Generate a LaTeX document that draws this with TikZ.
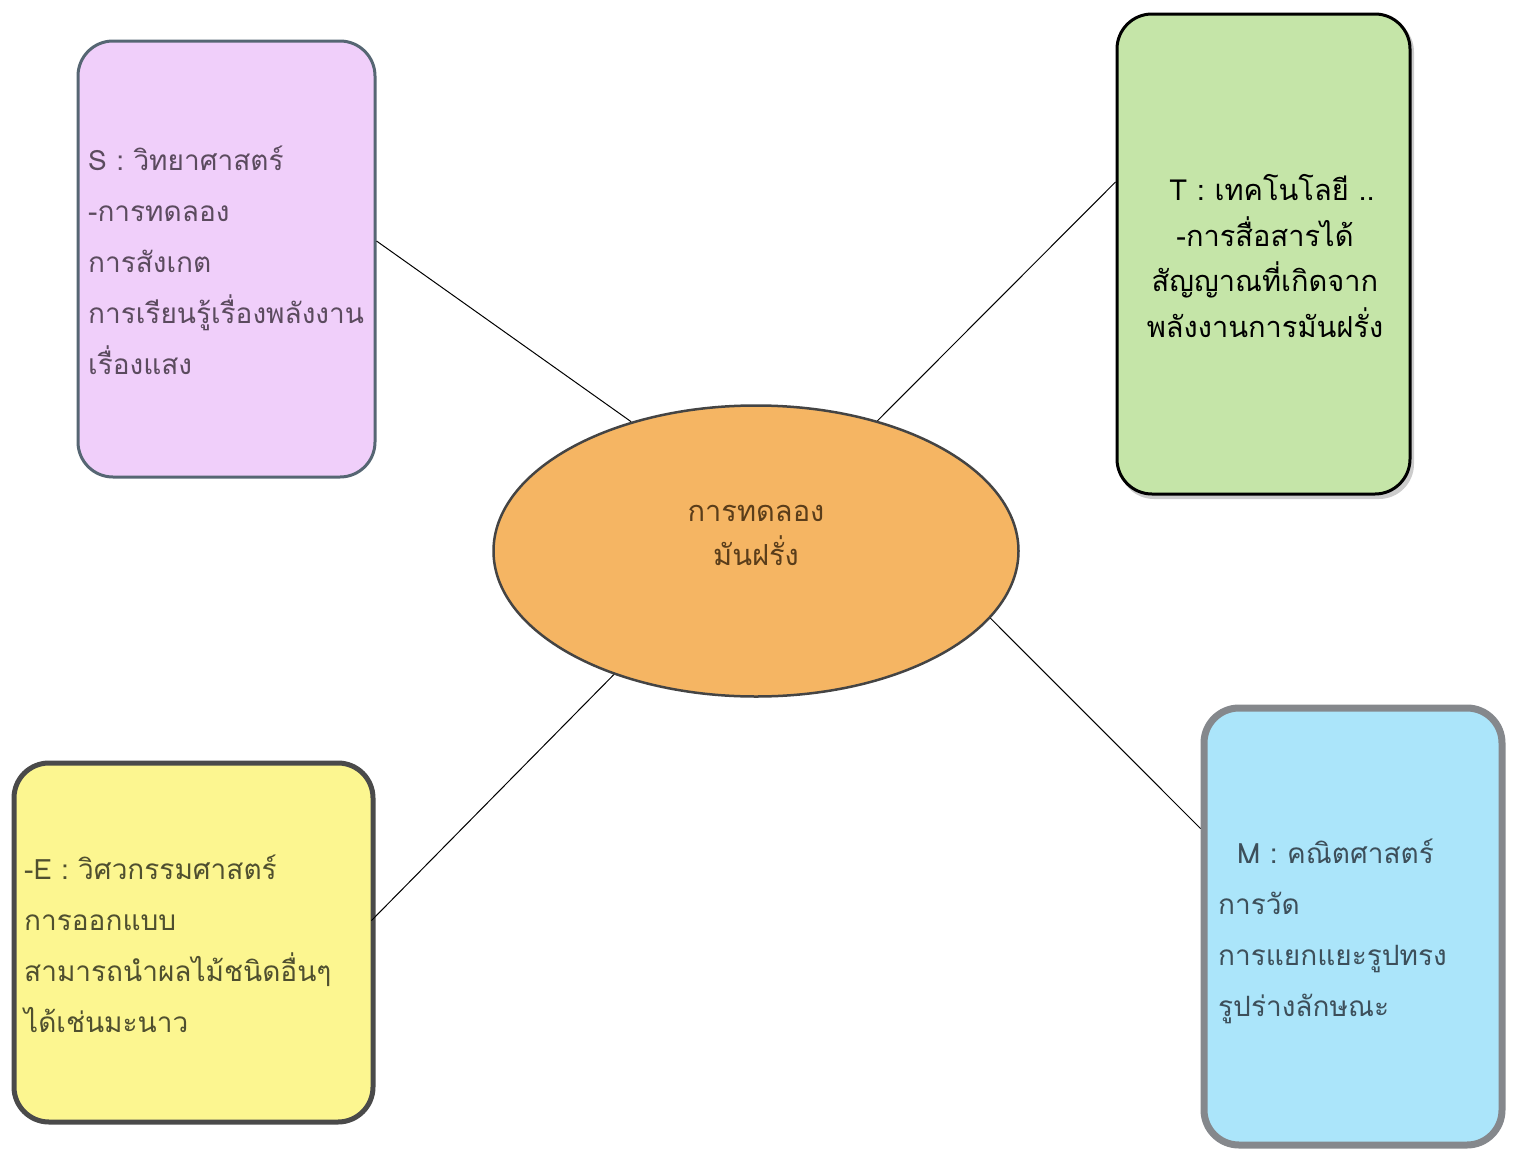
\documentclass[tikz,border=0pt]{standalone}
\usepackage{fontspec}
\newfontfamily\thai[Script=Thai]{Loma}
\usetikzlibrary{shapes.geometric,calc}
\definecolor{sfill}{HTML}{F0CFFA}
\definecolor{sdraw}{HTML}{566673}
\definecolor{stext}{HTML}{5B4B5E}
\definecolor{tfill}{HTML}{C5E5A8}
\definecolor{efill}{HTML}{FCF690}
\definecolor{edraw}{HTML}{4A4A4A}
\definecolor{etext}{HTML}{4F4F2F}
\definecolor{mfill}{HTML}{ABE5FA}
\definecolor{mdraw}{HTML}{85888C}
\definecolor{mtext}{HTML}{3D4F5A}
\definecolor{cfill}{HTML}{F5B563}
\definecolor{cdraw}{HTML}{444444}
\definecolor{ctext}{HTML}{5A3D1A}
\begin{document}
\begin{tikzpicture}[x=1pt,y=-1pt,
  card/.style={rectangle, rounded corners=35pt, inner sep=0pt},
  body/.style={inner sep=0pt, font=\thai\fontsize{28}{51}\selectfont},
  link/.style={draw=black, line width=1pt}]
\useasboundingbox (0,0) rectangle (1521,1151);
% boxes
\node[card, fill=sfill, draw=sdraw, line width=3pt, minimum width=297pt, minimum height=436pt] (S) at (226.5,259) {};
\fill[black!20, rounded corners=35pt] (1119,17) rectangle (1414,499);
\node[card, fill=tfill, draw=black, line width=3pt, minimum width=293pt, minimum height=480pt] (T) at (1263.5,254) {};
\node[card, fill=efill, draw=edraw, line width=5pt, minimum width=359pt, minimum height=359pt] (E) at (193.5,942.5) {};
\node[card, fill=mfill, draw=mdraw, line width=7pt, minimum width=298pt, minimum height=437pt] (M) at (1353,926.5) {};
\node[ellipse, fill=cfill, draw=cdraw, line width=2.5pt, minimum width=525pt, minimum height=291pt, inner sep=0pt] (C) at (756,551) {};
% texts
\node[body, text=stext, anchor=west, align=left] (St) at (88,260) {S : วิทยาศาสตร์\\-การทดลอง\\การสังเกต\\การเรียนรู้เรื่องพลังงาน\\เรื่องแสง};
\node[body, text=black, align=center, font=\thai\fontsize{29}{45.5}\selectfont] (Tt) at (1265,256) {\hspace*{14pt}T : เทคโนโลยี ..\\-การสื่อสารได้\\สัญญาณที่เกิดจาก\\พลังงานการมันฝรั่ง};
\node[body, text=etext, anchor=west, align=left] (Et) at (24,944) {-E : วิศวกรรมศาสตร์\\การออกแบบ\\สามารถนำผลไม้ชนิดอื่นๆ\\ได้เช่นมะนาว};
\node[body, text=mtext, anchor=west, align=left] (Mt) at (1218,931) {\hspace*{19pt}M : คณิตศาสตร์\\การวัด\\การแยกแยะรูปทรง\\รูปร่างลักษณะ};
\node[body, text=ctext, align=center, font=\thai\fontsize{29}{44}\selectfont] (Ct) at (756,535) {การทดลอง\\มันฝรั่ง};
% connectors
\coordinate (sa) at ([yshift=18pt]S.east);
\coordinate (ta) at ([yshift=72pt]T.west);
\coordinate (ea) at ([yshift=22pt,xshift=-4pt]E.east);
\coordinate (ma) at ([yshift=98pt]M.west);
\draw[link] (sa) -- (C.134);
\draw[link] (ta) -- (C.47.5);
\draw[link] (ea) -- (C.221.4);
\draw[link] (ma) -- (C.344);
\end{tikzpicture}
\end{document}
